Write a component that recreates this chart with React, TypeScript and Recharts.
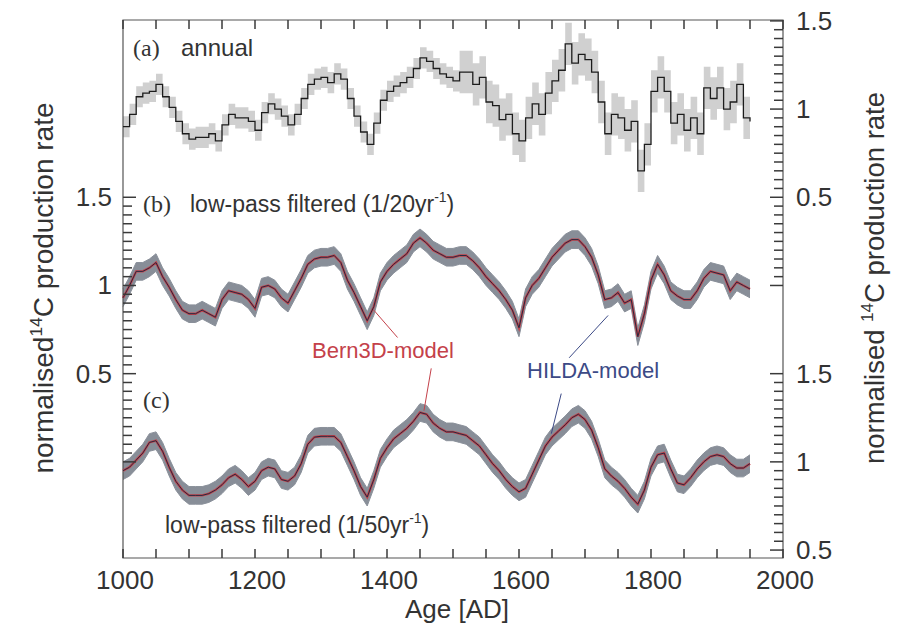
import React from 'react'
import {
  ComposedChart,
  Area,
  Line,
  XAxis,
  YAxis,
  ReferenceArea,
  ReferenceLine,
} from 'recharts'

// decadal steps, 1000–1950 AD
const YEARS = Array.from({ length: 96 }, (_, i) => 1000 + i * 10)

// (a) annual production rate (step curve)
const ANNUAL = [
  0.90, 0.97, 1.07, 1.09, 1.10, 1.14, 1.07, 1.01, 0.93, 0.86,
  0.83, 0.84, 0.84, 0.86, 0.82, 0.91, 0.97, 0.95, 0.95, 0.93,
  0.88, 0.98, 1.03, 1.00, 0.96, 0.91, 0.97, 1.06, 1.14, 1.17,
  1.18, 1.15, 1.20, 1.17, 1.06, 0.96, 0.87, 0.80, 0.92, 1.05,
  1.10, 1.13, 1.15, 1.18, 1.23, 1.29, 1.27, 1.23, 1.20, 1.18,
  1.16, 1.21, 1.21, 1.14, 1.18, 1.04, 1.02, 0.94, 0.97, 0.86,
  0.82, 0.95, 1.03, 0.97, 1.09, 1.16, 1.22, 1.37, 1.26, 1.31,
  1.28, 1.21, 1.04, 0.86, 0.97, 0.95, 0.88, 0.93, 0.65, 0.80,
  1.10, 1.18, 1.10, 0.92, 0.97, 0.88, 0.95, 0.86, 1.12, 1.06,
  1.12, 1.00, 1.04, 1.14, 0.95, 0.93,
]

// (b) low-pass filtered 1/20yr
const FILT20 = [
  0.93, 1.00, 1.08, 1.08, 1.10, 1.13, 1.05, 0.99, 0.92, 0.86,
  0.84, 0.84, 0.86, 0.84, 0.82, 0.92, 0.97, 0.96, 0.95, 0.92,
  0.87, 0.99, 1.00, 0.98, 0.93, 0.90, 0.97, 1.04, 1.12, 1.15,
  1.16, 1.16, 1.17, 1.13, 1.03, 0.96, 0.88, 0.80, 0.88, 1.02,
  1.08, 1.12, 1.15, 1.18, 1.24, 1.27, 1.24, 1.20, 1.18, 1.16,
  1.16, 1.17, 1.17, 1.14, 1.10, 1.05, 1.01, 0.97, 0.92, 0.86,
  0.76, 0.93, 1.00, 1.04, 1.10, 1.16, 1.20, 1.24, 1.26, 1.26,
  1.22, 1.16, 1.06, 0.92, 0.93, 0.96, 0.90, 0.92, 0.71, 0.84,
  1.03, 1.12, 1.06, 0.97, 0.94, 0.92, 0.92, 0.97, 1.04, 1.08,
  1.07, 1.06, 0.97, 1.02, 1.00, 0.98,
]

// (c) low-pass filtered 1/50yr
const FILT50 = [
  0.95, 0.97, 1.01, 1.05, 1.11, 1.12, 1.06, 0.97, 0.89, 0.84,
  0.81, 0.81, 0.81, 0.82, 0.84, 0.87, 0.91, 0.93, 0.90, 0.86,
  0.89, 0.95, 0.97, 0.96, 0.90, 0.89, 0.92, 0.99, 1.10, 1.14,
  1.145, 1.145, 1.145, 1.11, 1.03, 0.95, 0.86, 0.80, 0.90, 1.02,
  1.08, 1.13, 1.16, 1.19, 1.23, 1.28, 1.27, 1.22, 1.19, 1.17,
  1.17, 1.16, 1.15, 1.12, 1.09, 1.04, 0.99, 0.95, 0.90, 0.86,
  0.83, 0.85, 0.93, 1.01, 1.09, 1.14, 1.175, 1.21, 1.25, 1.27,
  1.24, 1.18, 1.08, 0.96, 0.92, 0.89, 0.85, 0.80, 0.76, 0.84,
  0.97, 1.04, 1.05, 0.96, 0.88, 0.87, 0.91, 0.96, 1.00, 1.03,
  1.04, 1.03, 0.99, 0.965, 0.965, 0.99,
]

// uncertainty half-widths
const ANNUAL_ERR_EARLY = 0.06
const ANNUAL_ERR_LATE = 0.12
const ANNUAL_ERR_SPLIT = 1510
const FILT_ERR = 0.05

const X_LABELS = [1000, 1200, 1400, 1600, 1800, 2000]
const PANEL_LABELS = [0.5, 1, 1.5]

// panels are stacked on one axis, shifted by these offsets
const OFF_A = 1.5
const OFF_B = 0.5
const OFF_C = -0.5
const Y_DOMAIN = [-0.045, 3.005]

const W = 899
const H = 634
const PL = 123
const PR = 783
const PT = 20
const PB = 558
const FONT = '"Liberation Sans", Arial, Helvetica, sans-serif'
const SERIF = '"Liberation Serif", "Times New Roman", serif'
const INK = '#333'
const TICK = '#3a3a3a'

const rows = YEARS.map((year, i) => {
  const e = year < ANNUAL_ERR_SPLIT ? ANNUAL_ERR_EARLY : ANNUAL_ERR_LATE
  return {
    year,
    a: ANNUAL[i] + OFF_A,
    aBand: [ANNUAL[i] + OFF_A - e, ANNUAL[i] + OFF_A + e],
    b: FILT20[i] + OFF_B,
    bBand: [FILT20[i] + OFF_B - FILT_ERR, FILT20[i] + OFF_B + FILT_ERR],
    c: FILT50[i] + OFF_C,
    cBand: [FILT50[i] + OFF_C - FILT_ERR, FILT50[i] + OFF_C + FILT_ERR],
  }
})

const xTicks: number[] = []
for (let y = 1000; y <= 2000; y += 50) xTicks.push(y)

// 0.05 steps of a panel, k counts steps from 0
const panelTicks = (off: number, kFrom: number, kTo: number) => {
  const t: number[] = []
  for (let k = kFrom; k <= kTo; k++) t.push(off + k * 0.05)
  return t
}
const leftTicks = panelTicks(OFF_B, 0, 30)
const rightTicks = [...panelTicks(OFF_C, 10, 30), ...panelTicks(OFF_A, 0, 30)]

const fmt = (v: number) => (v === 1 ? '1' : String(v))

function XTick({ x, payload }: any) {
  const v = payload.value
  return (
    <g>
      <line x1={x} x2={x} y1={PB} y2={PB - 9} stroke={TICK} strokeWidth={1.5} />
      <line x1={x} x2={x} y1={PT} y2={PT + 9} stroke={TICK} strokeWidth={1.5} />
      {X_LABELS.includes(v) && (
        <text x={x + 2} y={589} textAnchor="middle" fontSize={26} fontFamily={FONT} fill={INK}>
          {v}
        </text>
      )}
    </g>
  )
}

function tickInfo(value: number, off: number) {
  const k = Math.round((value - off) / 0.05)
  const v = Math.round(k * 5) / 100
  const major = k % 10 === 0
  return { v, major }
}

function LeftTick({ y, payload }: any) {
  const { v, major } = tickInfo(payload.value, OFF_B)
  return (
    <g>
      <line x1={PL} x2={PL + (major ? 13 : 9)} y1={y} y2={y} stroke={TICK} strokeWidth={1.5} />
      {major && PANEL_LABELS.includes(v) && (
        <text x={112} y={y + 9} textAnchor="end" fontSize={26} fontFamily={FONT} fill={INK}>
          {fmt(v)}
        </text>
      )}
    </g>
  )
}

function RightTick({ y, payload }: any) {
  const off = payload.value > 1.4 ? OFF_A : OFF_C
  const { v, major } = tickInfo(payload.value, off)
  return (
    <g>
      <line x1={PR} x2={PR - (major ? 13 : 9)} y1={y} y2={y} stroke={TICK} strokeWidth={1.5} />
      {major && PANEL_LABELS.includes(v) && (
        <text x={796} y={y + 9} textAnchor="start" fontSize={26} fontFamily={FONT} fill={INK}>
          {fmt(v)}
        </text>
      )}
    </g>
  )
}

function YTitle({ x, y, size, spaced }: { x: number; y: number; size: number; spaced?: boolean }) {
  return (
    <text
      transform={`translate(${x},${y}) rotate(-90)`}
      textAnchor="middle"
      fontSize={size}
      fontFamily={FONT}
      fill={INK}
    >
      {spaced ? 'normalised ' : 'normalised'}
      <tspan fontSize={size * 0.62} dy={-size * 0.4}>14</tspan>
      <tspan dy={size * 0.4}>C production rate</tspan>
    </text>
  )
}

export default function App() {
  return (
    <div style={{ position: 'absolute', left: 0, top: 0, width: W, height: H, background: '#fff' }}>
      <ComposedChart
        width={W}
        height={H}
        data={rows}
        margin={{ top: PT, right: W - PR - 1, bottom: H - PB - 1, left: PL - 1 }}
      >
        <XAxis
          dataKey="year"
          type="number"
          domain={[1000, 2000]}
          ticks={xTicks}
          interval={0}
          tick={<XTick />}
          tickLine={false}
          axisLine={false}
          height={1}
        />
        <YAxis
          yAxisId="l"
          type="number"
          domain={Y_DOMAIN}
          allowDataOverflow
          ticks={leftTicks}
          interval={0}
          tick={<LeftTick />}
          tickLine={false}
          axisLine={false}
          width={1}
        />
        <YAxis
          yAxisId="r"
          orientation="right"
          type="number"
          domain={Y_DOMAIN}
          allowDataOverflow
          ticks={rightTicks}
          interval={0}
          tick={<RightTick />}
          tickLine={false}
          axisLine={false}
          width={1}
        />

        <Area yAxisId="l" dataKey="aBand" type="stepAfter" fill="#b0b0b0" fillOpacity={0.6} stroke="none" isAnimationActive={false} />
        <Line yAxisId="l" dataKey="a" type="stepAfter" stroke="#1c1c1c" strokeWidth={1.3} dot={false} isAnimationActive={false} />

        <Area yAxisId="l" dataKey="bBand" type="linear" fill="#737a86" fillOpacity={0.85} stroke="#8a909a" strokeWidth={1} isAnimationActive={false} />
        <Line yAxisId="l" dataKey="b" type="linear" stroke="#c4414a" strokeWidth={2.4} dot={false} isAnimationActive={false} />
        <Line yAxisId="l" dataKey="b" type="linear" stroke="#262a40" strokeWidth={1} dot={false} isAnimationActive={false} />

        <Area yAxisId="l" dataKey="cBand" type="linear" fill="#737a86" fillOpacity={0.85} stroke="#8a909a" strokeWidth={1} isAnimationActive={false} />
        <Line yAxisId="l" dataKey="c" type="linear" stroke="#c4414a" strokeWidth={2.4} dot={false} isAnimationActive={false} />
        <Line yAxisId="l" dataKey="c" type="linear" stroke="#262a40" strokeWidth={1} dot={false} isAnimationActive={false} />

        {/* leader lines from the model labels */}
        <ReferenceLine yAxisId="l" segment={[{ x: 1416, y: 1.205 }, { x: 1380, y: 1.36 }]} stroke="#c4414a" strokeWidth={1} ifOverflow="visible" />
        <ReferenceLine yAxisId="l" segment={[{ x: 1467, y: 1.03 }, { x: 1456, y: 0.79 }]} stroke="#c4414a" strokeWidth={1} ifOverflow="visible" />
        <ReferenceLine yAxisId="l" segment={[{ x: 1676, y: 1.09 }, { x: 1735, y: 1.33 }]} stroke="#3c4a86" strokeWidth={1} ifOverflow="visible" />
        <ReferenceLine yAxisId="l" segment={[{ x: 1664, y: 0.887 }, { x: 1649, y: 0.66 }]} stroke="#3c4a86" strokeWidth={1} ifOverflow="visible" />

        <ReferenceArea yAxisId="l" x1={1000} x2={2000} y1={Y_DOMAIN[0]} y2={Y_DOMAIN[1]} fill="none" stroke="#555" strokeWidth={1.2} ifOverflow="visible" />
      </ComposedChart>

      <svg width={W} height={H} style={{ position: 'absolute', left: 0, top: 0, pointerEvents: 'none' }}>
        <text x={133} y={56} fontSize={24} fontFamily={SERIF} fill={INK}>(a)</text>
        <text x={181} y={56} fontSize={24} fontFamily={FONT} fill={INK}>annual</text>

        <text x={143} y={212} fontSize={24} fontFamily={SERIF} fill={INK}>(b)</text>
        <text x={190} y={212} fontSize={23} fontFamily={FONT} fill={INK}>
          low-pass filtered (1/20yr<tspan fontSize={14} dy={-10}>-1</tspan><tspan dy={10}>)</tspan>
        </text>

        <text x={143} y={408} fontSize={24} fontFamily={SERIF} fill={INK}>(c)</text>
        <text x={165} y={533} fontSize={23} fontFamily={FONT} fill={INK}>
          low-pass filtered (1/50yr<tspan fontSize={14} dy={-10}>-1</tspan><tspan dy={10}>)</tspan>
        </text>

        <text x={312} y={358} fontSize={22} fontFamily={FONT} fill="#c4414a">Bern3D-model</text>
        <text x={527} y={378} fontSize={22} fontFamily={FONT} fill="#3c4a86">HILDA-model</text>

        <text x={457} y={618} textAnchor="middle" fontSize={26} fontFamily={FONT} fill={INK}>Age [AD]</text>

        <YTitle x={53} y={288} size={28} />
        <YTitle x={884} y={278} size={27.5} spaced />
      </svg>
    </div>
  )
}
